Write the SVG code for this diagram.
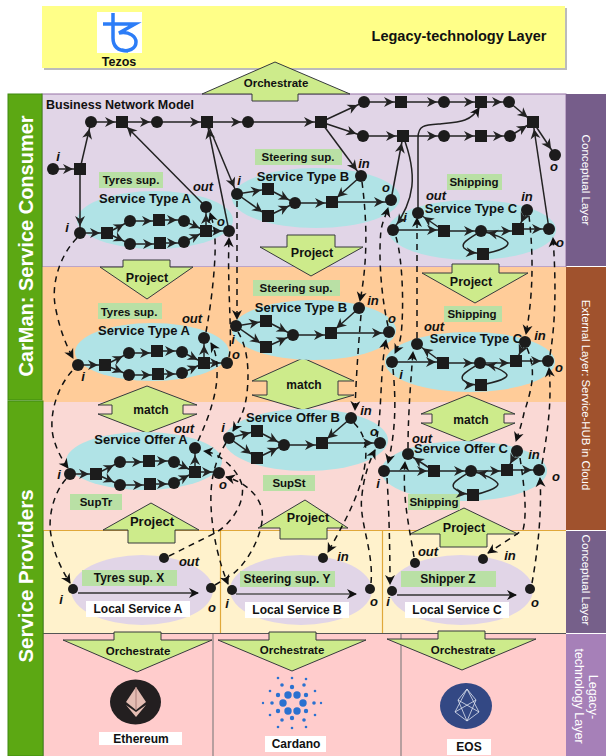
<svg xmlns="http://www.w3.org/2000/svg" width="606" height="756" viewBox="0 0 606 756">
<style>
text{font-family:"Liberation Sans",Arial,sans-serif;font-weight:bold;fill:#111}
.t{font-size:12px;text-anchor:middle}
.v{font-size:13px;text-anchor:middle}
.m{font-size:12px;text-anchor:middle}
.pj{font-size:12.500px;text-anchor:middle}
.l{font-size:11.500px;text-anchor:middle}
.i{font-size:13px;font-style:italic;text-anchor:middle}
.w{fill:#fff;text-anchor:middle;font-weight:normal}
.el{fill:#b0e3e6}
.lo{fill:#e1d5e7}
.g{fill:#b9e0a5}
.wb{fill:#fff}
.ar{fill:#cdeb8b;stroke:#36393d;stroke-width:1}
.e{fill:none;stroke:#222;stroke-width:1.500;marker-end:url(#a)}
.d{fill:none;stroke:#111;stroke-width:1.500;stroke-dasharray:6 5;marker-end:url(#b)}
circle.p{fill:#1c1c1c}
rect.s{fill:#1c1c1c}
</style>
<defs>
<marker id="a" markerUnits="userSpaceOnUse" markerWidth="24" markerHeight="12" refX="17" refY="5" orient="auto" overflow="visible"><path d="M0,0L10,5L0,10L3,5Z" fill="#222"/></marker>
<marker id="b" markerUnits="userSpaceOnUse" markerWidth="12" markerHeight="12" refX="9" refY="5" orient="auto" overflow="visible"><path d="M0,0L10,5L0,10L3,5Z" fill="#111"/></marker>
<marker id="c" markerUnits="userSpaceOnUse" markerWidth="12" markerHeight="12" refX="9" refY="5" orient="auto" overflow="visible"><path d="M0,0L10,5L0,10L3,5Z" fill="#111"/></marker>
</defs>
<g id="layers">
<rect x="44" y="8" width="523" height="62" fill="#bbb"/>
<rect x="42" y="6" width="523" height="62" fill="#ffff88"/>
<rect x="42" y="94" width="524" height="173" fill="#e1d5e7" stroke="#9673a6"/>
<rect x="42" y="267" width="524" height="135" fill="#ffcc99"/>
<rect x="43" y="402" width="523" height="129" fill="#fad9d5"/>
<rect x="43" y="531" width="523" height="102" fill="#fff2cc"/>
<path d="M43,530.500H566M220.500,531V633M382.500,531V633" stroke="#e0a83a" stroke-width="1.200" fill="none"/>
<rect x="43" y="634" width="523" height="122" fill="#ffcccc"/>
<path d="M43,633.500H566M43,531V756" stroke="#555" stroke-width="1" fill="none"/>
<path d="M213,634V756M401,634V756" stroke="#a09090" stroke-width="1.500" fill="none"/>
<rect x="8" y="94" width="34" height="306" fill="#5ca813" stroke="#3f8a10"/>
<rect x="8" y="401" width="35" height="355" fill="#5ca813" stroke="#3f8a10"/>
<rect x="566" y="94" width="40" height="172" fill="#765d8a"/>
<rect x="566" y="267" width="40" height="263" fill="#a0522d"/>
<rect x="566" y="531" width="40" height="102" fill="#76608a"/>
<rect x="566" y="634" width="40" height="122" fill="#a680b8"/>
<text class="w" transform="translate(33,246) rotate(-90)" style="font-size:20px;font-weight:bold">CarMan: Service Consumer</text>
<text class="w" transform="translate(33,576) rotate(-90)" style="font-size:20.500px;font-weight:bold">Service Providers</text>
<text class="w" style="font-size:11.600px" transform="translate(582,180) rotate(90)">Conceptual Layer</text>
<text class="w" style="font-size:11.400px" transform="translate(582,395) rotate(90)">External Layer: Service-HUB in Cloud</text>
<text class="w" style="font-size:11.600px" transform="translate(582,580) rotate(90)">Conceptual Layer</text>
<text class="w" style="font-size:12.500px" transform="translate(589,697) rotate(90)">Legacy-</text>
<text class="w" style="font-size:12.500px" transform="translate(575,696) rotate(90)">technology Layer</text>
<text x="459" y="41" style="font-size:14.500px;text-anchor:middle">Legacy-technology Layer</text>
<text x="46" y="109" style="font-size:12.500px">Business Network Model</text>
</g>
<g id="tezos">
<rect x="97" y="12" width="45" height="41" fill="#fff"/>
<path d="M113,13V38C113,48 120,51 128,51M103,24H135L119,33C130,31 136,37 136,42C136,49 128,52 122,50" fill="none" stroke="#2c7df7" stroke-width="3.500"/>
<text class="pj" x="119" y="66">Tezos</text>
</g>
<g id="arrows">
<path class="ar" d="M275,62L350,94H298V101H252V94H202Z"/>
<text class="l" x="276" y="87">Orchestrate</text>
<path class="ar" d="M100,267H123V260H170V267H193L147,299Z"/>
<text class="pj" x="147" y="282">Project</text>
<path class="ar" d="M260,247H287V235H335V247H363L311,276Z"/>
<text class="pj" x="312" y="257">Project</text>
<path class="ar" d="M422,273H452V264H499V273H528L475,303Z"/>
<text class="pj" x="471" y="286">Project</text>
<path class="ar" d="M98,405L147,386L197,405H183V414H197L147,433L98,414H112V405Z"/>
<text class="t" x="151" y="414">match</text>
<path class="ar" d="M252,381L303,358L354,381H338V395H354L303,410L252,395H267V381Z"/>
<text class="t" x="304" y="389">match</text>
<path class="ar" d="M421,414L468,395L515,414H504V423H515L468,442L421,423H432V414Z"/>
<text class="t" x="471" y="424">match</text>
<path class="ar" d="M151,503L199,530H175V543H128V530H103Z"/>
<text class="v" x="152" y="526">Project</text>
<path class="ar" d="M305,500L348,528H327V539H280V528H258Z"/>
<text class="pj" x="308" y="522">Project</text>
<path class="ar" d="M464,508L518,534H487V547H440V534H410Z"/>
<text class="pj" x="464" y="532">Project</text>
<path class="ar" d="M63,640H114V632H161V640H212L137,672Z"/>
<text class="l" x="138" y="655">Orchestrate</text>
<path class="ar" d="M218,640H269V632H316V640H366L292,671Z"/>
<text class="l" x="292" y="654">Orchestrate</text>
<path class="ar" d="M387,639H438V631H485V639H536L462,670Z"/>
<text class="l" x="463" y="654">Orchestrate</text>
</g>
<g id="bnm-labels">
<text class="i" x="58" y="161">i</text><text class="i" x="554" y="171">o</text>
</g>
<g id="service-type-a">
<ellipse class="el" cx="155" cy="220" rx="78" ry="29"/>
<rect class="g" x="99" y="172" width="64" height="16"/>
<text class="l" x="131" y="184">Tyres sup.</text>
<text class="v" x="145" y="203">Service Type A</text>
<text class="i" x="203" y="191">out</text><text class="i" x="67" y="232">i</text><text class="i" x="221" y="226">o</text>
</g>
<g id="service-type-b">
<ellipse class="el" cx="316" cy="198" rx="84" ry="30"/>
<rect class="g" x="255" y="149" width="87" height="16"/>
<text class="l" x="298" y="161">Steering sup.</text>
<text class="v" x="303" y="181">Service Type B</text>
<text class="i" x="364" y="168">in</text><text class="i" x="386" y="192">o</text><text class="i" x="239" y="185">i</text>
</g>
<g id="service-type-c">
<ellipse class="el" cx="472" cy="230" rx="84" ry="30"/>
<rect class="g" x="447" y="174" width="55" height="16"/>
<text class="l" x="474" y="186">Shipping</text>
<text class="v" x="471" y="213">Service Type C</text>
<text class="i" x="436" y="200">out</text><text class="i" x="527" y="201">in</text><text class="i" x="560" y="247">o</text><text class="i" x="405" y="222">i</text>
</g>
<g id="ext-type-a">
<ellipse class="el" cx="152" cy="352" rx="77" ry="29"/>
<rect class="g" x="98" y="303" width="64" height="16"/>
<text class="l" x="129" y="316">Tyres sup.</text>
<text class="v" x="144" y="335">Service Type A</text>
<text class="i" x="192" y="323">out</text><text class="i" x="83" y="381">i</text><text class="i" x="236" y="359">o</text>
</g>
<g id="ext-type-b">
<ellipse class="el" cx="314" cy="330" rx="82" ry="30"/>
<rect class="g" x="253" y="280" width="87" height="16"/>
<text class="l" x="296" y="292">Steering sup.</text>
<text class="v" x="301" y="312">Service Type B</text>
<text class="i" x="373" y="305">in</text><text class="i" x="392" y="323">o</text><text class="i" x="233" y="344">i</text>
</g>
<g id="ext-type-c">
<ellipse class="el" cx="470" cy="362" rx="85" ry="30"/>
<rect class="g" x="444" y="306" width="58" height="16"/>
<text class="l" x="472" y="318">Shipping</text>
<text class="v" x="476" y="343">Service Type C</text>
<text class="i" x="434" y="331">out</text><text class="i" x="540" y="340">in</text><text class="i" x="559" y="372">o</text><text class="i" x="401" y="379">i</text>
</g>
<g id="offer-a">
<ellipse class="el" cx="144" cy="461" rx="78" ry="29"/>
<text class="v" x="141" y="444">Service Offer A</text>
<rect class="g" x="70" y="494" width="52" height="16"/>
<text class="l" x="96" y="506">SupTr</text>
<text class="i" x="184" y="433">out</text><text class="i" x="59" y="479">i</text><text class="i" x="223" y="489">o</text>
</g>
<g id="offer-b">
<ellipse class="el" cx="306" cy="440" rx="82" ry="31"/>
<text class="v" x="293" y="422">Service Offer B</text>
<rect class="g" x="263" y="475" width="52" height="16"/>
<text class="l" x="289" y="487">SupSt</text>
<text class="i" x="366" y="415">in</text><text class="i" x="374" y="436">o</text><text class="i" x="223" y="432">i</text>
</g>
<g id="offer-c">
<ellipse class="el" cx="464" cy="471" rx="83" ry="30"/>
<text class="v" x="461" y="453">Service Offer C</text>
<rect class="g" x="408" y="494" width="52" height="16"/>
<text class="l" x="434" y="506">Shipping</text>
<text class="i" x="422" y="443">out</text><text class="i" x="534" y="459">in</text><text class="i" x="556" y="481">o</text><text class="i" x="378" y="488">i</text>
</g>
<g id="local-a">
<ellipse class="lo" cx="142" cy="590" rx="71" ry="35"/>
<rect class="g" x="82" y="570" width="95" height="16"/>
<text class="m" x="129" y="582">Tyres sup. X</text>
<rect class="wb" x="86" y="601" width="104" height="16"/>
<text class="m" x="138" y="613">Local Service A</text>
<text class="i" x="189" y="566">out</text><text class="i" x="61" y="604">i</text><text class="i" x="212" y="612">o</text>
</g>
<g id="local-b">
<ellipse class="lo" cx="301" cy="590" rx="71" ry="35"/>
<rect class="g" x="240" y="571" width="95" height="16"/>
<text class="m" x="287" y="583">Steering sup. Y</text>
<rect class="wb" x="245" y="602" width="104" height="16"/>
<text class="m" x="297" y="614">Local Service B</text>
<text class="i" x="343" y="561">in</text><text class="i" x="374" y="606">o</text><text class="i" x="227" y="608">i</text>
</g>
<g id="local-c">
<ellipse class="lo" cx="461" cy="590" rx="72" ry="35"/>
<rect class="g" x="401" y="571" width="95" height="16"/>
<text class="m" x="448" y="583">Shipper Z</text>
<rect class="wb" x="405" y="602" width="104" height="16"/>
<text class="m" x="457" y="614">Local Service C</text>
<text class="i" x="428" y="556">out</text><text class="i" x="510" y="560">in</text><text class="i" x="535" y="607">o</text><text class="i" x="388" y="606">i</text>
</g>
<g id="connectors">
<path class="e" d="M53,169H80"/><path class="e" d="M80,169L91,122"/><path class="e" d="M80,169V233"/>
<path class="e" d="M91,122H122"/><path class="e" d="M122,122H157"/><path class="e" d="M157,122H207"/><path class="e" d="M207,122H248"/><path class="e" d="M248,122H321"/>
<path class="e" d="M321,122L364,102"/><path class="e" d="M321,122L363,136"/>
<path class="e" d="M364,102H401"/><path class="e" d="M401,102H444"/><path class="e" d="M444,102H481"/><path class="e" d="M481,102H509"/><path class="e" d="M509,102L533,122"/>
<path class="e" d="M363,136H403"/><path class="e" d="M403,136H444"/><path class="e" d="M444,136H481"/><path class="e" d="M481,136H510"/><path class="e" d="M510,136L533,122"/><path class="e" d="M533,122L555,155"/>
<path class="e" d="M207,122L237,194"/><path class="e" d="M229,231L207,122"/><path class="e" d="M206,207L122,122"/>
<path class="e" d="M321,122L361,176"/><path class="e" d="M391,200L403,136"/><path class="e" d="M403,136C418,175 415,200 393,230"/>
<path class="e" d="M418,213V138C418,125 425,125 440,124C460,122 470,122 479,108" style="marker-end:url(#c)"/>
<path class="e" d="M549,229L533,122"/>
<path class="e" d="M80,233H107"/><path class="e" d="M107,233L130,221"/><path class="e" d="M107,233L130,244"/><path class="e" d="M130,221H159"/><path class="e" d="M159,220H184"/><path class="e" d="M184,221L206,231"/><path class="e" d="M130,244H160"/><path class="e" d="M160,243H184"/><path class="e" d="M184,242L206,231"/><path class="e" d="M206,231V207"/><path class="e" d="M206,231H229"/>
<path class="e" d="M237,194L268,189"/><path class="e" d="M237,194L268,216"/><path class="e" d="M268,189L295,203"/><path class="e" d="M268,216L295,203"/><path class="e" d="M295,203H332"/><path class="e" d="M332,202H391"/><path class="e" d="M361,176L332,202"/>
<path class="e" d="M393,230H444"/><path class="e" d="M444,231L418,213"/><path class="e" d="M444,231H481"/><path class="e" d="M481,231H518"/><path class="e" d="M518,229H549"/><path class="e" d="M527,210L518,229"/><path class="e" d="M481,231C470,238 460,243 464,248C468,252 474,253 483,254"/><path class="e" d="M483,254C494,252 508,248 508,243C506,239 495,234 481,231"/>
<path class="e" d="M78,365H105"/><path class="e" d="M105,365L129,353"/><path class="e" d="M105,365L129,375"/><path class="e" d="M129,353H157"/><path class="e" d="M157,351H182"/><path class="e" d="M182,352L204,363"/><path class="e" d="M129,375H158"/><path class="e" d="M158,374H182"/><path class="e" d="M182,373L204,363"/><path class="e" d="M204,363V338"/><path class="e" d="M204,363H227"/>
<path class="e" d="M236,326L266,321"/><path class="e" d="M236,326L266,347"/><path class="e" d="M266,321L293,335"/><path class="e" d="M266,347L293,335"/><path class="e" d="M293,335H331"/><path class="e" d="M331,333H389"/><path class="e" d="M359,308L331,333"/>
<path class="e" d="M392,362H443"/><path class="e" d="M443,363L417,344"/><path class="e" d="M443,363H480"/><path class="e" d="M480,363H516"/><path class="e" d="M516,361H548"/><path class="e" d="M525,342L516,361"/><path class="e" d="M480,363C469,370 459,375 463,380C467,384 473,385 481,385"/><path class="e" d="M481,385C492,383 507,379 507,375C505,371 494,366 480,363"/>
<path class="e" d="M70,474H96"/><path class="e" d="M96,474L120,462"/><path class="e" d="M96,474L120,485"/><path class="e" d="M120,462H149"/><path class="e" d="M149,461H174"/><path class="e" d="M174,462L195,472"/><path class="e" d="M120,485H150"/><path class="e" d="M150,484H174"/><path class="e" d="M174,483L195,472"/><path class="e" d="M195,472V448"/><path class="e" d="M195,472H219"/>
<path class="e" d="M229,438L257,431"/><path class="e" d="M229,438L257,458"/><path class="e" d="M257,431L284,445"/><path class="e" d="M257,458L284,445"/><path class="e" d="M284,445H322"/><path class="e" d="M322,443H380"/><path class="e" d="M351,418L322,443"/>
<path class="e" d="M384,471H434"/><path class="e" d="M434,471L408,454"/><path class="e" d="M434,471H471"/><path class="e" d="M471,471H507"/><path class="e" d="M507,470H539"/><path class="e" d="M517,451L507,470"/><path class="e" d="M471,471C460,478 450,483 454,488C458,492 464,494 473,495"/><path class="e" d="M473,495C484,493 498,488 498,484C496,480 485,474 471,471"/>
<path d="M78,593H198" stroke="#333" stroke-width="1.500" fill="none" marker-end="url(#c)"/>
<path d="M236,594H356" stroke="#555" stroke-width="1.500" fill="none" marker-end="url(#c)"/>
<path d="M397,595H516" stroke="#333" stroke-width="1.500" fill="none" marker-end="url(#c)"/>
<path class="d" d="M77,238C60,255 50,285 56,310C60,330 66,345 73,358"/>
<path class="d" d="M72,371C55,390 48,420 54,440C57,450 62,460 68,468"/>
<path class="d" d="M66,479C52,495 48,520 51,535C54,555 62,570 70,583"/>
<path class="d" d="M206,332C212,300 216,260 215,240C215,230 213,222 210,213"/>
<path class="d" d="M198,441C210,415 218,390 217,370C217,358 215,350 211,343"/>
<path class="d" d="M169,556L217,532C235,520 245,500 242,485C238,470 220,453 204,451"/>
<path class="d" d="M215,585L233,574C250,560 265,530 262,510C259,495 245,482 226,477"/>
<path class="d" d="M229,357C233,340 227,290 229,238"/>
<path class="d" d="M237,201V319"/>
<path class="d" d="M238,332C246,345 250,365 247,393C245,410 240,420 233,431"/>
<path class="d" d="M226,443C215,460 210,480 211,505C212,535 220,565 228,584"/>
<path class="d" d="M362,182C367,220 368,260 360,301"/>
<path class="d" d="M361,315C358,350 356,380 355,410"/>
<path class="d" d="M354,423C366,435 368,450 364,470C358,500 340,530 328,552"/>
<path class="d" d="M388,326C382,300 378,260 381,230C383,220 386,215 388,208"/>
<path class="d" d="M377,437C382,410 380,370 386,340"/>
<path class="d" d="M371,583C374,550 358,520 362,495C364,475 370,460 375,450"/>
<path class="d" d="M396,237C403,260 404,310 401,335C400,342 398,347 395,353"/>
<path class="d" d="M393,369C396,400 396,430 388,463"/>
<path class="d" d="M387,478C389,510 390,550 390,584"/>
<path class="d" d="M417,338V218"/>
<path class="d" d="M408,448C408,420 410,390 413,352"/>
<path class="d" d="M414,557C410,530 402,500 405,462"/>
<path class="d" d="M529,216C533,250 534,290 526,334"/>
<path class="d" d="M527,348C536,370 533,385 524,413C522,423 519,432 516,441"/>
<path class="d" d="M520,458C525,490 527,515 523,530L488,553"/>
<path class="d" d="M550,355C556,320 556,280 553,238"/>
<path class="d" d="M542,464C548,430 552,400 549,368"/>
<path class="d" d="M532,583C538,550 542,510 540,478"/>
</g>
<g id="nodes-top">
<circle class="p" cx="53" cy="169" r="6"/><rect class="s" x="74" y="163" width="12" height="12"/>
<circle class="p" cx="91" cy="122" r="6"/><rect class="s" x="116" y="116" width="12" height="12"/><circle class="p" cx="157" cy="122" r="6"/><rect class="s" x="201" y="116" width="12" height="12"/><circle class="p" cx="248" cy="122" r="6"/><rect class="s" x="315" y="116" width="12" height="12"/>
<circle class="p" cx="364" cy="102" r="6"/><rect class="s" x="395" y="96" width="12" height="12"/><circle class="p" cx="444" cy="102" r="6"/><rect class="s" x="475" y="96" width="12" height="12"/><circle class="p" cx="509" cy="102" r="6"/><rect class="s" x="527" y="116" width="12" height="12"/>
<circle class="p" cx="363" cy="136" r="6"/><rect class="s" x="397" y="130" width="12" height="12"/><circle class="p" cx="444" cy="136" r="6"/><rect class="s" x="475" y="130" width="12" height="12"/><circle class="p" cx="510" cy="136" r="6"/><circle class="p" cx="555" cy="155" r="6"/>
</g>
<g id="nodes-type-a">
<circle class="p" cx="80" cy="233" r="6"/><rect class="s" x="101" y="227" width="12" height="12"/><circle class="p" cx="130" cy="221" r="6"/><rect class="s" x="153" y="214" width="12" height="12"/><circle class="p" cx="184" cy="221" r="6"/><circle class="p" cx="130" cy="244" r="6"/><rect class="s" x="154" y="237" width="12" height="12"/><circle class="p" cx="184" cy="242" r="6"/><rect class="s" x="200" y="225" width="12" height="12"/><circle class="p" cx="206" cy="207" r="6"/><circle class="p" cx="229" cy="231" r="6"/>
</g>
<g id="nodes-type-b">
<circle class="p" cx="237" cy="194" r="6"/><rect class="s" x="262" y="183" width="12" height="12"/><rect class="s" x="262" y="210" width="12" height="12"/><circle class="p" cx="295" cy="203" r="6"/><rect class="s" x="326" y="196" width="12" height="12"/><circle class="p" cx="391" cy="200" r="6"/><circle class="p" cx="361" cy="176" r="6"/>
</g>
<g id="nodes-type-c">
<circle class="p" cx="393" cy="230" r="6"/><circle class="p" cx="418" cy="213" r="6"/><circle class="p" cx="527" cy="210" r="6"/><rect class="s" x="438" y="225" width="12" height="12"/><circle class="p" cx="481" cy="231" r="6"/><rect class="s" x="512" y="223" width="12" height="12"/><circle class="p" cx="549" cy="229" r="6"/><rect class="s" x="477" y="248" width="12" height="12"/>
</g>
<g id="nodes-ext-a">
<circle class="p" cx="78" cy="365" r="6"/><rect class="s" x="99" y="359" width="12" height="12"/><circle class="p" cx="129" cy="353" r="6"/><rect class="s" x="151" y="345" width="12" height="12"/><circle class="p" cx="182" cy="352" r="6"/><circle class="p" cx="129" cy="375" r="6"/><rect class="s" x="152" y="368" width="12" height="12"/><circle class="p" cx="182" cy="373" r="6"/><rect class="s" x="198" y="357" width="12" height="12"/><circle class="p" cx="204" cy="338" r="6"/><circle class="p" cx="227" cy="363" r="6"/>
</g>
<g id="nodes-ext-b">
<circle class="p" cx="236" cy="326" r="6"/><rect class="s" x="260" y="315" width="12" height="12"/><rect class="s" x="260" y="341" width="12" height="12"/><circle class="p" cx="293" cy="335" r="6"/><rect class="s" x="325" y="327" width="12" height="12"/><circle class="p" cx="389" cy="332" r="6"/><circle class="p" cx="359" cy="308" r="6"/>
</g>
<g id="nodes-ext-c">
<circle class="p" cx="392" cy="362" r="6"/><circle class="p" cx="417" cy="344" r="6"/><rect class="s" x="437" y="357" width="12" height="12"/><circle class="p" cx="480" cy="363" r="6"/><rect class="s" x="510" y="355" width="12" height="12"/><circle class="p" cx="548" cy="361" r="6"/><circle class="p" cx="525" cy="342" r="6"/><rect class="s" x="475" y="379" width="12" height="12"/>
</g>
<g id="nodes-offer-a">
<circle class="p" cx="70" cy="474" r="6"/><rect class="s" x="90" y="468" width="12" height="12"/><circle class="p" cx="120" cy="462" r="6"/><rect class="s" x="143" y="455" width="12" height="12"/><circle class="p" cx="174" cy="462" r="6"/><circle class="p" cx="120" cy="485" r="6"/><rect class="s" x="144" y="478" width="12" height="12"/><circle class="p" cx="174" cy="483" r="6"/><rect class="s" x="189" y="466" width="12" height="12"/><circle class="p" cx="195" cy="448" r="6"/><circle class="p" cx="219" cy="473" r="6"/>
</g>
<g id="nodes-offer-b">
<circle class="p" cx="229" cy="438" r="6"/><rect class="s" x="251" y="425" width="12" height="12"/><rect class="s" x="251" y="452" width="12" height="12"/><circle class="p" cx="284" cy="445" r="6"/><rect class="s" x="316" y="437" width="12" height="12"/><circle class="p" cx="380" cy="443" r="6"/><circle class="p" cx="351" cy="418" r="6"/>
</g>
<g id="nodes-offer-c">
<circle class="p" cx="384" cy="471" r="6"/><circle class="p" cx="408" cy="454" r="6"/><rect class="s" x="428" y="465" width="12" height="12"/><circle class="p" cx="471" cy="471" r="6"/><rect class="s" x="501" y="464" width="12" height="12"/><circle class="p" cx="539" cy="470" r="6"/><circle class="p" cx="517" cy="451" r="6"/><rect class="s" x="467" y="489" width="12" height="12"/>
</g>
<g id="nodes-local">
<circle class="p" cx="73" cy="589" r="5"/><circle class="p" cx="164" cy="558" r="5"/><circle class="p" cx="211" cy="588" r="5"/>
<circle class="p" cx="232" cy="590" r="5"/><circle class="p" cx="323" cy="558" r="5"/><circle class="p" cx="370" cy="589" r="5"/>
<circle class="p" cx="392" cy="591" r="5"/><circle class="p" cx="415" cy="563" r="5"/><circle class="p" cx="483" cy="559" r="5"/><circle class="p" cx="530" cy="589" r="5"/>
</g>
<g id="ethereum">
<ellipse cx="135.500" cy="702" rx="25.500" ry="22.500" fill="#231f20"/>
<path d="M136,687L146,702L136,710L126,702Z" fill="#e4bdb3"/><path d="M136,687V710" stroke="#a97d78"/>
<path d="M126,705L136,712L146,705L136,717Z" fill="#e4bdb3"/>
<rect x="99" y="732" width="83" height="13" fill="#fff"/>
<text class="t" x="141" y="743">Ethereum</text>
</g>
<g id="cardano" fill="#2a71d0">
<circle cx="283" cy="703" r="3.700"/><circle cx="288" cy="695" r="3.700"/><circle cx="288" cy="711" r="3.700"/><circle cx="297" cy="695" r="3.700"/><circle cx="297" cy="711" r="3.700"/><circle cx="303" cy="703" r="3.700"/>
<circle cx="292" cy="687" r="2.200"/><circle cx="278" cy="695" r="2.200"/><circle cx="278" cy="711" r="2.200"/><circle cx="292" cy="718" r="2.200"/><circle cx="306" cy="695" r="2.200"/><circle cx="306" cy="711" r="2.200"/>
<circle cx="272" cy="703" r="1.800"/><circle cx="314" cy="703" r="1.800"/><circle cx="282" cy="685" r="1.800"/><circle cx="304" cy="685" r="1.800"/><circle cx="282" cy="720" r="1.800"/><circle cx="304" cy="720" r="1.800"/>
<circle cx="292" cy="678" r="1.300"/><circle cx="278" cy="678" r="1.300"/><circle cx="270" cy="691" r="1.300"/><circle cx="263" cy="703" r="1.200"/><circle cx="292" cy="728" r="1.300"/><circle cx="278" cy="727" r="1.300"/><circle cx="321" cy="703" r="1.200"/><circle cx="315" cy="691" r="1.300"/><circle cx="315" cy="715" r="1.300"/><circle cx="306" cy="679" r="1.300"/><circle cx="306" cy="727" r="1.300"/><circle cx="270" cy="715" r="1.300"/>
<rect x="265" y="736" width="61" height="16" fill="#fff"/>
<text class="t" x="296" y="748">Cardano</text>
</g>
<g id="eos">
<ellipse cx="466" cy="706" rx="26" ry="23" fill="#334884"/>
<path d="M467,689L479,712L467,721L455,712ZM467,689L458,700L467,721L476,700ZM458,700L479,712M476,700L455,712" fill="none" stroke="#dfe4f0" stroke-width=".800"/>
<rect x="447" y="739" width="44" height="16" fill="#fff"/>
<text class="t" x="469" y="751">EOS</text>
</g>
</svg>
